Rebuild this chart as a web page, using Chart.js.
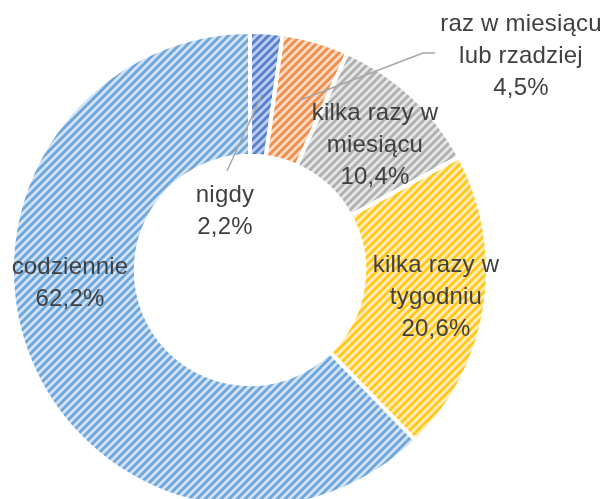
<!DOCTYPE html>
<html>
<head>
<meta charset="utf-8">
<script src="https://cdn.jsdelivr.net/npm/chart.js@4"></script>
<style>
  html, body { margin: 0; padding: 0; background: #fff; overflow: hidden; }
  #wrap { width: 608px; height: 520px; }
</style>
</head>
<body>
<div id="wrap"><canvas id="chart" width="608" height="520"></canvas></div>
<script>
// data
const categories = ['nigdy', 'raz w miesiącu lub rzadziej', 'kilka razy w miesiącu', 'kilka razy w tygodniu', 'codziennie'];
const labelLines = [['nigdy'], ['raz w miesiącu', 'lub rzadziej'], ['kilka razy w', 'miesiącu'], ['kilka razy w', 'tygodniu'], ['codziennie']];
const shares = [2.2, 4.5, 10.4, 20.6, 62.2];

// colours: [background, stripe]
const sliceColors = [
  ['#bccdee', '#4472c4'],
  ['#fadcc6', '#ed7d31'],
  ['#e6e6e6', '#a5a5a5'],
  ['#ffedb8', '#ffc000'],
  ['#d3e3f5', '#5b9bd5']
];

// label block centre, offset from the doughnut centre
const labelOffsets = [[-25, -59], [271, -214], [125, -125], [186, 27], [-180, 13]];
// leader lines: [start offset from label centre, knee offset] or null
const leaders = [[[2, -40], null], [[-86, -3], [-98, -3]], null, null, null];

function hatch(bg, fg) {
  const s = 8;
  const c = document.createElement('canvas');
  c.width = s; c.height = s;
  const g = c.getContext('2d');
  g.fillStyle = bg;
  g.fillRect(0, 0, s, s);
  g.strokeStyle = fg;
  g.globalAlpha = 0.85;
  g.lineWidth = 2.8;
  g.beginPath();
  g.moveTo(-2, s + 2); g.lineTo(s + 2, -2);
  g.moveTo(-2, 2); g.lineTo(2, -2);
  g.moveTo(s - 2, s + 2); g.lineTo(s + 2, s - 2);
  g.stroke();
  return g.createPattern(c, 'repeat');
}

const sliceLabels = {
  id: 'sliceLabels',
  afterDatasetsDraw(chart) {
    const ctx = chart.ctx;
    const arcs = chart.getDatasetMeta(0).data;
    ctx.save();
    arcs.forEach((arc, i) => {
      const cx = arc.x, cy = arc.y;
      const lx = cx + labelOffsets[i][0], ly = cy + labelOffsets[i][1];
      const ld = leaders[i];
      if (ld) {
        const mid = (arc.startAngle + arc.endAngle) / 2;
        const r = (arc.innerRadius + arc.outerRadius) / 2;
        ctx.strokeStyle = '#a6a6a6';
        ctx.lineWidth = 1.5;
        ctx.beginPath();
        ctx.moveTo(lx + ld[0][0], ly + ld[0][1]);
        if (ld[1]) ctx.lineTo(lx + ld[1][0], ly + ld[1][1]);
        ctx.lineTo(cx + r * Math.cos(mid), cy + r * Math.sin(mid));
        ctx.stroke();
      }
      const lines = labelLines[i].concat([shares[i].toFixed(1).replace('.', ',') + '%']);
      const lh = 32;
      ctx.font = '24px "Liberation Sans", sans-serif';
      ctx.letterSpacing = '0.2px';
      ctx.fillStyle = '#404040';
      ctx.textAlign = 'center';
      ctx.textBaseline = 'middle';
      lines.forEach((t, k) => {
        ctx.fillText(t, lx, ly + (k - (lines.length - 1) / 2) * lh);
      });
    });
    ctx.restore();
  }
};

new Chart(document.getElementById('chart'), {
  type: 'doughnut',
  data: {
    labels: categories,
    datasets: [{
      data: shares,
      backgroundColor: sliceColors.map(c => hatch(c[0], c[1])),
      borderColor: '#ffffff',
      borderWidth: 4
    }]
  },
  options: {
    responsive: false,
    animation: false,
    cutout: '48%',
    layout: { padding: { left: 10, right: 118, top: 30, bottom: 10 } },
    plugins: {
      legend: { display: false },
      tooltip: { enabled: false }
    }
  },
  plugins: [sliceLabels]
});
</script>
</body>
</html>
